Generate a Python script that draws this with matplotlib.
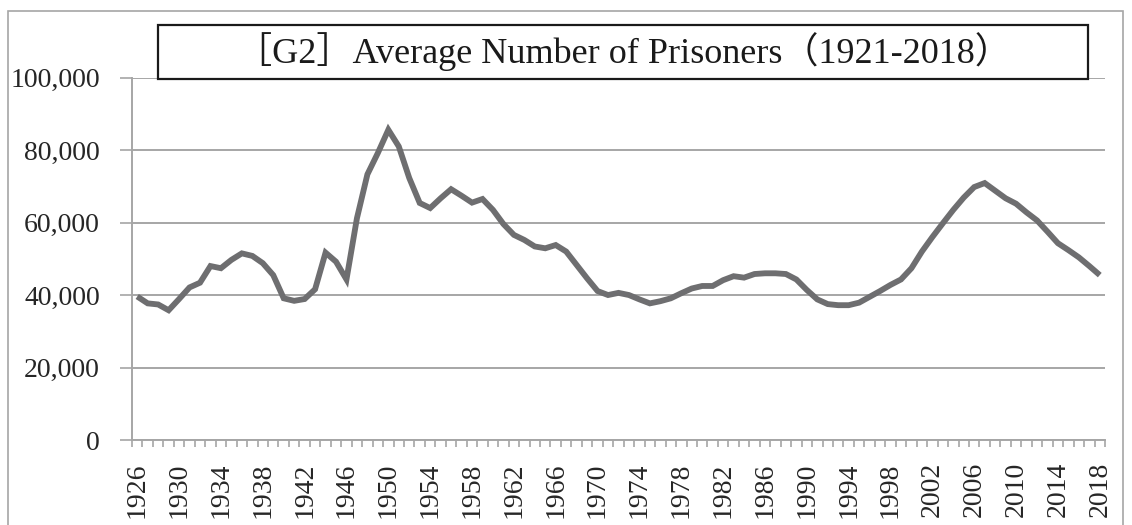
import matplotlib
matplotlib.use("Agg")
import matplotlib.pyplot as plt
from matplotlib.patches import Rectangle
from matplotlib.ticker import FixedLocator, FuncFormatter

years = list(range(1926, 2019))
prisoners = [
    39600, 37700, 37400, 35800, 38900, 42100, 43400, 48000, 47400, 49700,
    51500, 50800, 48800, 45500, 39100, 38400, 38900, 41600, 51700, 49200,
    44300, 61200, 73300, 79200, 85600, 81000, 72300, 65400, 64000, 66700,
    69200, 67400, 65500, 66500, 63500, 59600, 56600, 55200, 53400, 52900,
    53800, 52000, 48300, 44600, 41100, 40000, 40600, 40000, 38800, 37700,
    38300, 39100, 40500, 41800, 42500, 42500, 44100, 45200, 44800, 45800,
    46000, 46000, 45800, 44300, 41400, 38800, 37500, 37200, 37200, 37900,
    39500, 41100, 42800, 44300, 47400, 52000, 56000, 59800, 63500, 66900,
    69800, 70900, 68800, 66700, 65200, 62800, 60600, 57500, 54300, 52400,
    50400, 48000, 45500,
]
y_ticks = [0, 20000, 40000, 60000, 80000, 100000]
x_label_years = years[::4]
title = "［G2］Average Number of Prisoners（1921-2018）"

W, H = 1132, 525
fig = plt.figure(figsize=(W / 100, H / 100), dpi=100)
fonts = ["Liberation Serif", "Noto Sans CJK JP", "DejaVu Serif"]
plt.rcParams["font.family"] = fonts

# chart area border
fig.patches.append(Rectangle((8 / W, -0.1), (1123 - 8) / W, (H - 11) / H + 0.1,
                             transform=fig.transFigure, fill=False,
                             edgecolor="#a6a6a6", linewidth=1.2))

ax_l, ax_r, ax_t, ax_b = 132, 1105, 77.6, 440
ax = fig.add_axes([ax_l / W, (H - ax_b) / H, (ax_r - ax_l) / W, (ax_b - ax_t) / H])

ax.plot(years, prisoners, color="#6e6e70", linewidth=4.2, solid_joinstyle="miter",
        solid_capstyle="butt", zorder=3)

ax.set_xlim(years[0] - 0.5, years[-1] + 0.5)
ax.set_ylim(0, 100000)
ax.set_yticks(y_ticks)
ax.yaxis.set_major_formatter(FuncFormatter(lambda v, p: f"{int(v):,}"))
ax.grid(axis="y", color="#a6a6a6", linewidth=1.4, zorder=1)

ax.set_xticks(x_label_years)
ax.set_xticklabels([str(y) for y in x_label_years], rotation=90)
ax.xaxis.set_minor_locator(FixedLocator([y - 0.5 for y in years] + [years[-1] + 0.5]))
ax.tick_params(axis="x", which="major", length=0, pad=16, labelsize=20)
ax.tick_params(axis="x", which="minor", length=5, width=1.2, color="#a6a6a6")
ax.tick_params(axis="y", which="major", length=9, width=1.2, color="#a6a6a6",
               pad=14, labelsize=20)
for lab in ax.get_xticklabels() + ax.get_yticklabels():
    lab.set_color("#262626")

for side in ["top", "right"]:
    ax.spines[side].set_visible(False)
for side in ["left", "bottom"]:
    ax.spines[side].set_color("#a6a6a6")
    ax.spines[side].set_linewidth(1.4)

# title box
bx0, bx1, by0, by1 = 158, 1088, 25, 79
fig.patches.append(Rectangle((bx0 / W, 1 - by1 / H), (bx1 - bx0) / W, (by1 - by0) / H,
                             transform=fig.transFigure, facecolor="white",
                             edgecolor="#1a1a1a", linewidth=1.6, zorder=5))
fig.text((bx0 + bx1) / 2 / W, 1 - (by0 + by1) / 2 / H, title, ha="center", va="center",
         fontsize=26, color="#1a1a1a", zorder=6)

fig.savefig("out.png", dpi=100, facecolor="white")
